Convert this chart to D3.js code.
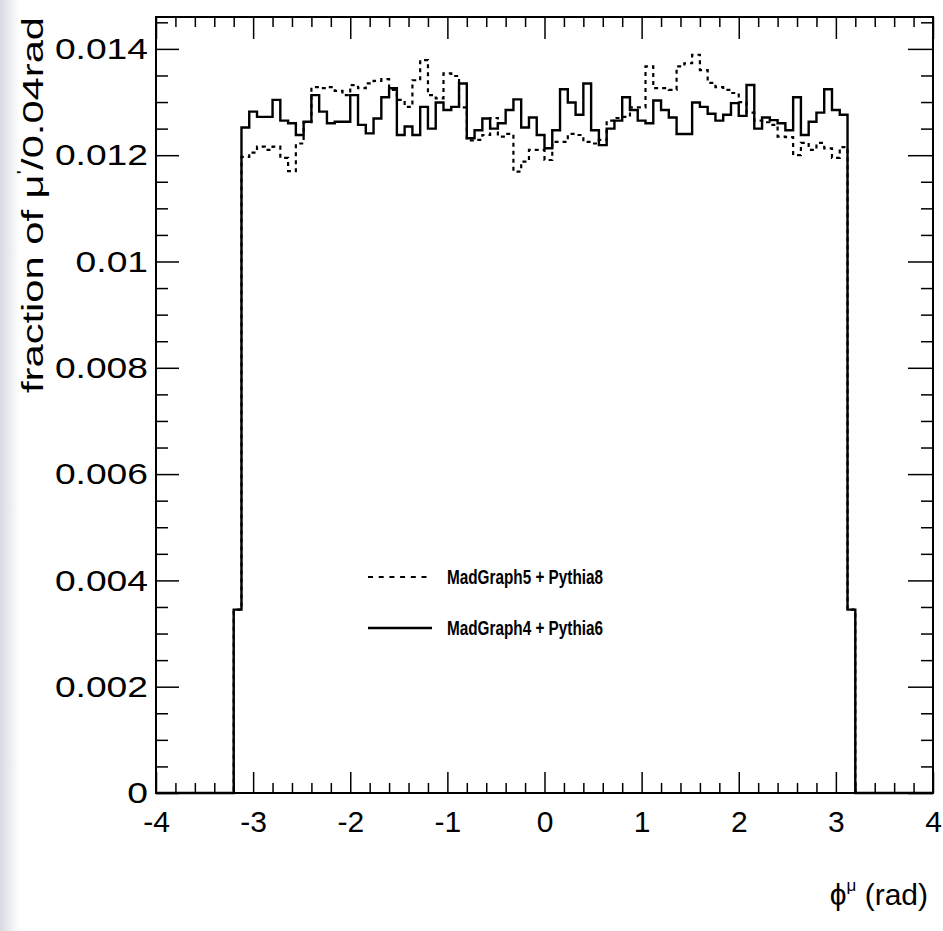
<!DOCTYPE html>
<html>
<head>
<meta charset="utf-8">
<script src="https://cdn.jsdelivr.net/npm/d3@7"></script>
<style>
  body { margin: 0; background: #fff; }
  svg { display: block; }
  text { font-family: "Liberation Sans", Arial, Helvetica, sans-serif; fill: #000; }
</style>
</head>
<body>
<svg id="chart" width="943" height="931"></svg>
<script>
// Tick values and labels
const xTicks = [-4, -3, -2, -1, 0, 1, 2, 3, 4];
const yTicks = [0, 0.002, 0.004, 0.006, 0.008, 0.01, 0.012, 0.014];
const yTickLabels = ["0", "0.002", "0.004", "0.006", "0.008", "0.01", "0.012", "0.014"];

// Histogram binning: 80 filled bins of 0.08 rad starting at -3.2 (range -4..4)
const binStart = -3.2;
const binWidth = 0.08;

// MadGraph4 + Pythia6 (solid)
const mg4py6 = [
  0.00345,
  0.01252, 0.01282, 0.01272, 0.01272, 0.01304, 0.01265, 0.01260, 0.01238, 0.01263, 0.01313,
  0.01282, 0.01260, 0.01263, 0.01263, 0.01313, 0.01257, 0.01241, 0.01269, 0.01309, 0.01326,
  0.01238, 0.01254, 0.01238, 0.01291, 0.01250, 0.01299, 0.01285, 0.01291, 0.01335, 0.01232,
  0.01247, 0.01269, 0.01250, 0.01260, 0.01285, 0.01305, 0.01252, 0.01271, 0.01238, 0.01213,
  0.01247, 0.01324, 0.01299, 0.01276, 0.01335, 0.01247, 0.01219, 0.01250, 0.01265, 0.01309,
  0.01285, 0.01265, 0.01260, 0.01303, 0.01285, 0.01271, 0.01240, 0.01240, 0.01299, 0.01291,
  0.01278, 0.01265, 0.01276, 0.01298, 0.01274, 0.01332, 0.01250, 0.01271, 0.01266, 0.01260,
  0.01247, 0.01309, 0.01238, 0.01263, 0.01280, 0.01324, 0.01285, 0.01276,
  0.00345
];

// MadGraph5 + Pythia8 (dashed)
const mg5py8 = [
  0.00345,
  0.01197, 0.01205, 0.01216, 0.01210, 0.01216, 0.01195, 0.01170, 0.01222, 0.01262, 0.01328,
  0.01326, 0.01328, 0.01321, 0.01313, 0.01332, 0.01326, 0.01335, 0.01340, 0.01343, 0.01323,
  0.01304, 0.01291, 0.01341, 0.01379, 0.01313, 0.01307, 0.01354, 0.01349, 0.01290, 0.01228,
  0.01229, 0.01238, 0.01270, 0.01235, 0.01240, 0.01169, 0.01188, 0.01210, 0.01210, 0.01191,
  0.01225, 0.01225, 0.01240, 0.01238, 0.01225, 0.01222, 0.01229, 0.01265, 0.01270, 0.01272,
  0.01290, 0.01290, 0.01367, 0.01326, 0.01326, 0.01323, 0.01367, 0.01373, 0.01389, 0.01360,
  0.01336, 0.01328, 0.01323, 0.01317, 0.01300, 0.01280, 0.01265, 0.01262, 0.01257, 0.01235,
  0.01234, 0.01200, 0.01223, 0.01210, 0.01223, 0.01213, 0.01195, 0.01215,
  0.00345
];

const legendLabels = ["MadGraph5 + Pythia8", "MadGraph4 + Pythia6"];

// Layout
const frame = { left: 156, right: 933, top: 17, bottom: 793 };
const svg = d3.select("#chart");

// light grey strip on the left edge, as in the screenshot
const grad = svg.append("defs").append("linearGradient")
  .attr("id", "edge").attr("x1", 0).attr("x2", 1).attr("y1", 0).attr("y2", 0);
grad.append("stop").attr("offset", 0).attr("stop-color", "#d6dae0");
grad.append("stop").attr("offset", 1).attr("stop-color", "#ffffff");
svg.append("rect").attr("x", 0).attr("y", 0).attr("width", 20).attr("height", 931)
  .attr("fill", "url(#edge)");

const x = d3.scaleLinear().domain([-4, 4]).range([frame.left, frame.right]);
const y = d3.scaleLinear().domain([0, 0.0146]).range([frame.bottom, frame.top]);

const xMinor = d3.range(-40, 41, 2).map(d => d / 10).filter(d => !xTicks.includes(d));
const yMinor = d3.range(0, 146, 5).map(d => d / 10000).filter(d => !yTicks.some(t => Math.abs(t - d) < 1e-9));

// helper: draw ticks with no domain line
function drawAxis(axis, transform, cls) {
  const g = svg.append("g").attr("class", cls).attr("transform", transform).call(axis);
  g.select(".domain").remove();
  g.selectAll(".tick line").attr("stroke", "#000").attr("stroke-width", 1.5);
  return g;
}

// bottom
const xAxisG = drawAxis(d3.axisBottom(x).tickValues(xTicks).tickSize(-21).tickPadding(18)
  .tickFormat(d => d), `translate(0,${frame.bottom})`, "x-major");
xAxisG.selectAll("text").attr("font-size", 30).attr("font-family", null);
drawAxis(d3.axisBottom(x).tickValues(xMinor).tickSize(-10).tickFormat(""), `translate(0,${frame.bottom})`, "x-minor");
// top
drawAxis(d3.axisTop(x).tickValues(xTicks).tickSize(-22).tickFormat(""), `translate(0,${frame.top})`, "x-top");
drawAxis(d3.axisTop(x).tickValues(xMinor).tickSize(-10).tickFormat(""), `translate(0,${frame.top})`, "x-top-minor");
// left
const yAxisG = drawAxis(d3.axisLeft(y).tickValues(yTicks).tickSize(-23).tickPadding(8)
  .tickFormat((d, i) => yTickLabels[i]), `translate(${frame.left},0)`, "y-major");
yAxisG.selectAll("text").attr("font-size", 30).attr("font-family", null)
  .each(function () {
    const len = this.getComputedTextLength();
    d3.select(this).attr("textLength", len * 1.24).attr("lengthAdjust", "spacingAndGlyphs");
  });
drawAxis(d3.axisLeft(y).tickValues(yMinor).tickSize(-12).tickFormat(""), `translate(${frame.left},0)`, "y-minor");
// right
drawAxis(d3.axisRight(y).tickValues(yTicks).tickSize(-25).tickFormat(""), `translate(${frame.right},0)`, "y-right");
drawAxis(d3.axisRight(y).tickValues(yMinor).tickSize(-12).tickFormat(""), `translate(${frame.right},0)`, "y-right-minor");

// frame
svg.append("rect")
  .attr("x", frame.left).attr("y", frame.top)
  .attr("width", frame.right - frame.left).attr("height", frame.bottom - frame.top)
  .attr("fill", "none").attr("stroke", "#000").attr("stroke-width", 2);

// histogram step lines
function stepPoints(values) {
  const pts = [[-4, 0]];
  values.forEach((v, i) => pts.push([binStart + i * binWidth, v]));
  pts.push([binStart + values.length * binWidth, 0]);
  pts.push([4, 0]);
  return pts;
}
const line = d3.line().x(d => x(d[0])).y(d => y(d[1])).curve(d3.curveStepAfter);

svg.append("path")
  .attr("d", line(stepPoints(mg5py8)))
  .attr("fill", "none").attr("stroke", "#000").attr("stroke-width", 2.2)
  .attr("stroke-dasharray", "4,4");

svg.append("path")
  .attr("d", line(stepPoints(mg4py6)))
  .attr("fill", "none").attr("stroke", "#000").attr("stroke-width", 2.4);

// legend
const legend = svg.append("g");
legendLabels.forEach((label, i) => {
  const ly = 577 + i * 51;
  legend.append("line")
    .attr("x1", 368).attr("x2", 432).attr("y1", ly).attr("y2", ly)
    .attr("stroke", "#000").attr("stroke-width", i === 0 ? 2 : 2.6)
    .attr("stroke-dasharray", i === 0 ? "5,5.7" : null);
  legend.append("text")
    .attr("x", 447).attr("y", ly + 7)
    .attr("font-size", 20).attr("font-weight", "bold")
    .attr("textLength", 156).attr("lengthAdjust", "spacingAndGlyphs")
    .text(label);
});

// axis titles
const xTitle = svg.append("text")
  .attr("x", 928).attr("y", 905)
  .attr("text-anchor", "end").attr("font-size", 30);
xTitle.append("tspan").text("ϕ");
xTitle.append("tspan").attr("font-size", 17).attr("dy", -14).text("μ");
xTitle.append("tspan").attr("dy", 14).text(" (rad)");

const yTitle = svg.append("text")
  .attr("transform", "translate(43,17) rotate(-90)")
  .attr("text-anchor", "end").attr("font-size", 30)
  .attr("textLength", 376).attr("lengthAdjust", "spacingAndGlyphs");
yTitle.append("tspan").text("fraction of μ");
yTitle.append("tspan").attr("font-size", 17).attr("dy", -14).text("'");
yTitle.append("tspan").attr("dy", 14).text("/0.04rad");
</script>
</body>
</html>
